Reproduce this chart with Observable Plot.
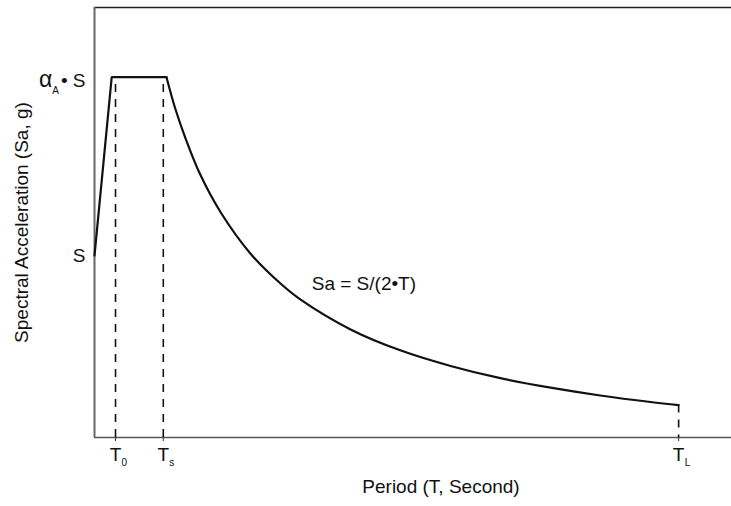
<!DOCTYPE html>
<html><head><meta charset="utf-8">
<script src="https://cdn.jsdelivr.net/npm/d3@7"></script>
<script src="https://cdn.jsdelivr.net/npm/@observablehq/plot@0.6"></script>
<style>body{margin:0;background:#fff}</style>
</head><body><div id="chart"></div>
<script>
// Ramp and plateau of the design spectrum
const rampT  = [0, 0.27, 1.13];
const rampSa = [1.0, 1.98, 1.98];
// Descending branch Sa = S/(2T)
const decayT  = [1.13, 1.27, 1.43, 1.66, 1.98, 2.45, 2.92, 3.23, 4.02, 4.80, 5.59, 6.37, 7.16, 7.94, 8.73, 9.17];
const decaySa = [1.98, 1.805, 1.643, 1.445, 1.238, 1.010, 0.846, 0.759, 0.594, 0.479, 0.393, 0.326, 0.274, 0.231, 0.195, 0.178];
// Characteristic periods
const periodTicks = [0.33, 1.08, 9.17];
const periodMain  = ["T", "T", "T"];
const periodSub   = ["0", "s", "L"];
const dashTopSa   = [1.94, 1.94, 0.178];
// Y tick labels
const accelTicks  = [1.0, 1.98];
const accelLabels = ["S", "αA• S"];
// Annotation
const formulaText = "Sa = S/(2•T)";
const formulaT = 3.41, formulaSa = 0.846;
const xDomain = [0, 10], yDomain = [0, 2.363];
const xLabel = "Period (T, Second)";
const yLabel = "Spectral Acceleration (Sa, g)";

const ramp  = rampT.map((t, i) => ({T: t, Sa: rampSa[i]}));
const decay = decayT.map((t, i) => ({T: t, Sa: decaySa[i]}));
const periods = periodTicks.map((t, i) => ({T: t, main: periodMain[i], sub: periodSub[i], top: dashTopSa[i]}));
const accelMap = new Map(accelTicks.map((v, i) => [v, accelLabels[i]]));

const FONT = "'Liberation Sans', Arial, Helvetica, sans-serif";

const chart = Plot.plot({
  width: 731, height: 506,
  marginLeft: 94, marginRight: 0, marginTop: 7, marginBottom: 69,
  style: {fontFamily: FONT, fontSize: "19px", background: "#fff", color: "#111", overflow: "visible"},
  x: {domain: xDomain},
  y: {domain: yDomain},
  marks: [
    // frame (top, left, bottom)
    Plot.ruleY([yDomain[1]], {stroke: "#222", strokeWidth: 1.4}),
    Plot.ruleX([0], {stroke: "#666", strokeWidth: 2}),
    Plot.ruleY([0], {stroke: "#555", strokeWidth: 1.5}),
    // dashed period lines
    Plot.ruleX(periods, {x: "T", y1: "top", y2: 0, stroke: "#111", strokeWidth: 1.6, strokeDasharray: "8,7"}),
    // spectrum
    Plot.line(ramp, {x: "T", y: "Sa", stroke: "#111", strokeWidth: 2.2, strokeLinejoin: "miter"}),
    Plot.line(decay, {x: "T", y: "Sa", stroke: "#111", strokeWidth: 2.2, curve: "catmull-rom"}),
    // axes
    Plot.axisX(periods.map(d => d.T), {tickSize: 4, tickPadding: 6, tickFormat: () => "T", fontSize: 19, stroke: "#333", label: null, fill: "#111"}),
    Plot.text(periods, {x: "T", text: "sub", frameAnchor: "bottom", lineAnchor: "bottom", textAnchor: "start", dx: 6, dy: 28, fontSize: 10, fill: "#111"}),
    Plot.axisY(accelTicks, {tickSize: 0, tickPadding: 9, tickFormat: d => accelMap.get(d), fontSize: 19, label: null, fill: "#111"}),
    // annotation
    Plot.text([{T: formulaT, Sa: formulaSa, label: formulaText}], {x: "T", y: "Sa", text: "label", textAnchor: "start", fontSize: 19, fill: "#111"}),
    // axis titles
    Plot.text([xLabel], {frameAnchor: "bottom", lineAnchor: "bottom", textAnchor: "middle", dx: 28, dy: 55, fontSize: 19, fill: "#111"}),
    Plot.text([yLabel], {frameAnchor: "left", lineAnchor: "bottom", textAnchor: "middle", rotate: -90, dx: -67, fontSize: 19, fill: "#111"})
  ]
});

// subscript A in the alpha label
d3.select(chart).selectAll("text").each(function() {
  if (this.textContent === "αA• S") {
    const t = d3.select(this);
    t.text("");
    t.append("tspan").attr("font-size", 23).text("α");
    t.append("tspan").attr("font-size", 10).attr("dy", 7).text("A");
    t.append("tspan").attr("dy", -7).attr("dx", 2).text("• S");
    t.attr("transform", (t.attr("transform") || "") + " translate(0,4)");
  }
});
document.getElementById("chart").appendChild(chart);
</script>
</body></html>
